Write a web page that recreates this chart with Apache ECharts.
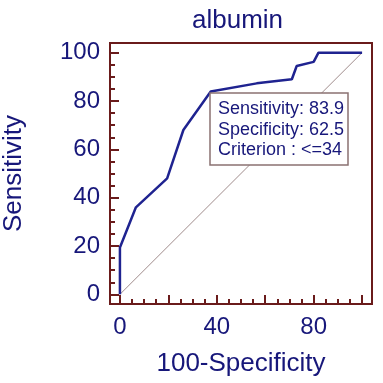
<!DOCTYPE html>
<html>
<head>
<meta charset="utf-8">
<script src="https://cdn.jsdelivr.net/npm/echarts@6/dist/echarts.min.js"></script>
<style>
  html, body { margin: 0; padding: 0; background: #fff; }
  #chart { width: 383px; height: 383px; }
</style>
</head>
<body>
<div id="chart"></div>
<script>
// ROC curve points (100-Specificity, Sensitivity)
const fpr = [0, 0, 6.6, 19.5, 26.2, 37.5, 56.5, 71, 73, 80, 82, 100];
const tpr = [0, 19.4, 36, 48, 68, 83.9, 87.3, 89, 94.5, 96.2, 100, 100];
// reference diagonal
const diagX = [0, 100];
const diagY = [0, 100];
const majorTicks = [0, 20, 40, 60, 80, 100];
const minorTicks = [5, 10, 15, 25, 30, 35, 45, 50, 55, 65, 70, 75, 85, 90, 95];
const xLabelTicks = [0, 40, 80];
const yLabelTicks = [0, 20, 40, 60, 80, 100];
const summaryLines = ['Sensitivity: 83.9', 'Specificity: 62.5', 'Criterion : <=34'];

const navy = '#17177a';
const maroon = '#6a1b1b';
const font = 'Liberation Sans, Arial';

const chart = echarts.init(document.getElementById('chart'));

// one axis for long ticks + labels, a twin for the short ticks
function axisPair(dir, range, labels, extra) {
  const base = {
    type: 'value',
    min: range[0],
    max: range[1],
    position: dir === 'x' ? 'bottom' : 'left',
    splitLine: { show: false },
    axisLine: { show: false, onZero: false },
  };
  const major = Object.assign({}, base, {
    axisTick: { show: true, inside: true, length: 9, customValues: majorTicks, lineStyle: { color: maroon, width: 2 } },
    axisLabel: { show: true, customValues: labels, color: navy, fontSize: 24, fontFamily: font, margin: dir === 'x' ? 11 : 10 },
  }, extra);
  const minor = Object.assign({}, base, {
    axisTick: { show: true, inside: true, length: 5, customValues: minorTicks, lineStyle: { color: maroon, width: 2 } },
    axisLabel: { show: false },
  });
  return [major, minor];
}

chart.setOption({
  animation: false,
  backgroundColor: '#fff',
  title: [
    {
      text: 'albumin',
      left: 192,
      top: 8,
      padding: 0,
      textStyle: { color: navy, fontSize: 26, fontWeight: 'normal', fontFamily: font },
    },
    {
      text: summaryLines.join('\n'),
      left: 210,
      top: 93,
      padding: [6, 4, 5, 8],
      backgroundColor: '#fff',
      borderColor: '#8a7272',
      borderWidth: 1.5,
      textStyle: { color: navy, fontSize: 18, lineHeight: 20.5, fontWeight: 'normal', fontFamily: font },
    },
  ],
  grid: {
    left: 110, right: 11, top: 43, bottom: 79,
    outerBoundsMode: 'none',
    containLabel: false,
    show: true, borderColor: maroon, borderWidth: 2,
  },
  xAxis: axisPair('x', [-4.1, 104.1], xLabelTicks, {
    name: '100-Specificity',
    nameLocation: 'middle',
    nameGap: 47,
    nameTextStyle: { color: navy, fontSize: 26, fontFamily: font },
  }),
  yAxis: axisPair('y', [-4.0, 104.0], yLabelTicks, {
    name: 'Sensitivity',
    nameLocation: 'middle',
    nameRotate: 90,
    nameGap: 83,
    nameTextStyle: { color: navy, fontSize: 26, fontFamily: font },
  }),
  series: [
    {
      type: 'line',
      data: diagX.map((x, i) => [x, diagY[i]]),
      symbol: 'none',
      lineStyle: { color: '#a08c8c', width: 1 },
      z: 1,
    },
    {
      type: 'line',
      data: fpr.map((x, i) => [x, tpr[i]]),
      symbol: 'none',
      lineStyle: { color: '#1f2390', width: 2.5 },
      z: 2,
    },
  ],
});
</script>
</body>
</html>
